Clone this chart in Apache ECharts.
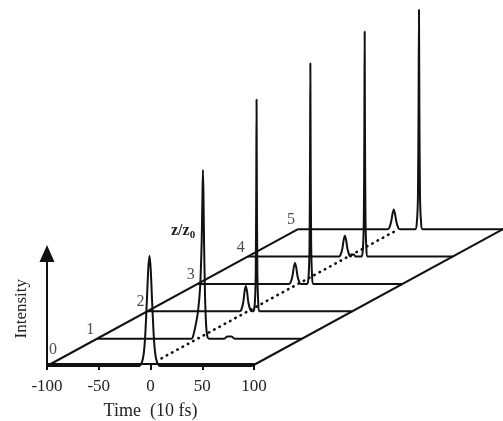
<!DOCTYPE html>
<html>
<head>
<meta charset="utf-8">
<script src="https://cdn.jsdelivr.net/npm/echarts@6/dist/echarts.min.js"></script>
<style>
  html, body { margin: 0; padding: 0; background: #fff; }
  #main { width: 503px; height: 421px; }
</style>
</head>
<body>
<div id="main"></div>
<script>
// propagation distance z/z0 of each trace
const zLevels = [0, 1, 2, 3, 4, 5];
// time axis ticks (10 fs)
const timeTicks = [-100, -50, 0, 50, 100];

// [time, intensity], one array per trace
const trace0 = [[-100,0],[-10,0],[-7.5,0.03],[-5.5,0.12],[-4,0.3],[-2.5,0.6],[-1.2,0.88],[0,1],[1.2,0.88],[2.5,0.6],[4,0.3],[5.5,0.12],[7.5,0.03],[10,0],[100,0]];
const trace1 = [[-100,0],[-8,0],[-6.5,0.02],[-4,0.12],[-1.6,0.25],[0.5,0.48],[2,0.9],[2.7,1.3],[3.2,1.53],[3.7,1.3],[4.3,0.85],[5.2,0.4],[6.3,0.12],[7.5,0.02],[9,0],[24,0],[27,0.02],[31,0.02],[34,0],[100,0]];
const trace2 = [[-100,0],[-10,0],[-8.5,0.01],[-6.5,0.08],[-5.2,0.18],[-4,0.23],[-2.8,0.18],[-1.5,0.08],[0.5,0.01],[2,0],[3.5,0],[4.8,0.07],[5.7,0.35],[6.2,1.1],[6.5,1.92],[6.8,1.1],[7.3,0.35],[8.2,0.07],[9.5,0],[100,0]];
const trace3 = [[-100,0],[-11,0],[-9.5,0.01],[-7.5,0.07],[-6.2,0.15],[-5,0.19],[-3.8,0.15],[-2.5,0.07],[-0.5,0.01],[1,0],[7,0],[8.3,0.07],[9.2,0.35],[9.7,1.15],[10,2.0],[10.3,1.15],[10.8,0.35],[11.7,0.07],[13,0],[100,0]];
const trace4 = [[-100,0],[-11.5,0],[-9.8,0.01],[-7.8,0.07],[-6.5,0.15],[-5.3,0.19],[-4.1,0.15],[-2.8,0.07],[-0.8,0.01],[0.5,0],[1.5,0.02],[3.5,0.02],[5,0],[11,0],[12.3,0.07],[13.2,0.35],[13.7,1.15],[14,2.04],[14.3,1.15],[14.8,0.35],[15.7,0.07],[17,0],[100,0]];
const trace5 = [[-100,0],[-13,0],[-11.1,0.01],[-9.1,0.07],[-7.8,0.14],[-6.6,0.18],[-5.4,0.14],[-4.1,0.07],[-2.1,0.01],[-0.5,0],[14.5,0],[16,0.07],[17,0.3],[17.6,1.1],[18,1.99],[18.4,1.1],[19,0.3],[20,0.07],[21.5,0],[100,0]];
const traces = [trace0, trace1, trace2, trace3, trace4, trace5];

// dotted guide on the floor: [time, z]
const guide = [[-2, 0.28], [-2, 5]];
// floor edges: [time, z]
const leftEdge = [[-100, 0], [-100, 5]];
const rightEdge = [[100, 0], [100, 5]];

// oblique offset of one z/z0 step, in axis units
const ZT = 49;
const ZI = 0.248;
const proj = (t, I, z) => [t + ZT * z, I + ZI * z];

const FONT = 'Liberation Serif';
const INK = '#111';
const TXT = '#222';
const line = { color: INK, width: 2 };

// front axes box (pixels) and the wider drawing box sharing its scale
const AX_LEFT = 47, AX_W = 207, AX_TOP = 253.5, AX_BOTTOM = 55, I_MAX = 1.02;
const T_MIN = timeTicks[0], T_MAX = timeTicks[timeTicks.length - 1];
const pxPerT = AX_W / (T_MAX - T_MIN);
const T_MAX_WIDE = T_MAX + ZT * 5;
const pxPerI = (421 - AX_TOP - AX_BOTTOM) / I_MAX;
const I_MAX_WIDE = (421 - AX_BOTTOM) / pxPerI;

const base = { xAxisIndex: 1, yAxisIndex: 1, clip: false, silent: true };
const series = [];
traces.forEach((tr, k) => {
  series.push(Object.assign({
    type: 'line',
    data: tr.map(p => proj(p[0], p[1], zLevels[k])),
    symbol: 'none',
    smooth: 0.2,
    lineStyle: line
  }, base));
});
[leftEdge, rightEdge].forEach(e => {
  series.push(Object.assign({
    type: 'line',
    data: e.map(p => proj(p[0], 0, p[1])),
    symbol: 'none',
    lineStyle: line
  }, base));
});
series.push(Object.assign({
  type: 'line',
  data: guide.map(p => proj(p[0], 0, p[1])),
  symbol: 'none',
  lineStyle: { color: INK, width: 2.6, type: [0.5, 5.5], cap: 'round' }
}, base));
// z/z0 numbers at the start of each trace
series.push(Object.assign({
  type: 'scatter',
  symbolSize: 1,
  itemStyle: { color: 'rgba(0,0,0,0)' },
  data: zLevels.map(z => ({
    value: proj(T_MIN, 0, z),
    label: { offset: z === 0 ? [6, -16] : [-7, -9] }
  })),
  label: {
    show: true,
    position: 'inside',
    formatter: p => String(zLevels[p.dataIndex]),
    fontFamily: FONT,
    fontSize: 16,
    color: TXT
  }
}, base));

const hidden = { show: false };
const chart = echarts.init(document.getElementById('main'));
chart.setOption({
  animation: false,
  backgroundColor: '#fff',
  title: {
    text: '{a|z/z}{b|0}',
    left: 166,
    top: 216,
    textStyle: {
      rich: {
        a: { fontFamily: FONT, fontSize: 16, color: TXT, lineHeight: 20 },
        b: { fontFamily: FONT, fontSize: 11, color: TXT, verticalAlign: 'bottom', lineHeight: 14, padding: [8, 0, 0, 0] }
      }
    }
  },
  grid: [
    { left: AX_LEFT, width: AX_W, top: AX_TOP, bottom: AX_BOTTOM },
    { left: AX_LEFT, width: (T_MAX_WIDE - T_MIN) * pxPerT, top: 0, bottom: AX_BOTTOM }
  ],
  xAxis: [{
    gridIndex: 0,
    type: 'value',
    min: T_MIN,
    max: T_MAX,
    interval: 50,
    axisLine: { lineStyle: line },
    axisTick: { show: true, length: 6, lineStyle: { color: INK, width: 2 } },
    axisLabel: { margin: 14, fontFamily: FONT, fontSize: 17, color: TXT },
    splitLine: hidden,
    name: 'Time  (10 fs)',
    nameLocation: 'middle',
    nameGap: 38,
    nameTextStyle: { fontFamily: FONT, fontSize: 18, color: TXT }
  }, {
    gridIndex: 1,
    type: 'value',
    min: T_MIN,
    max: T_MAX_WIDE,
    axisLine: hidden, axisTick: hidden, axisLabel: hidden, splitLine: hidden
  }],
  yAxis: [{
    gridIndex: 0,
    type: 'value',
    min: 0,
    max: I_MAX,
    axisLine: {
      show: true,
      onZero: false,
      symbol: ['none', 'triangle'],
      symbolSize: [15, 17],
      lineStyle: { color: INK, width: 2 }
    },
    axisTick: hidden,
    axisLabel: hidden,
    splitLine: hidden,
    name: 'Intensity',
    nameLocation: 'middle',
    nameRotate: 90,
    nameGap: 17,
    nameTextStyle: { fontFamily: FONT, fontSize: 17, color: TXT }
  }, {
    gridIndex: 1,
    type: 'value',
    min: 0,
    max: I_MAX_WIDE,
    axisLine: hidden, axisTick: hidden, axisLabel: hidden, splitLine: hidden
  }],
  series: series
});
</script>
</body>
</html>
